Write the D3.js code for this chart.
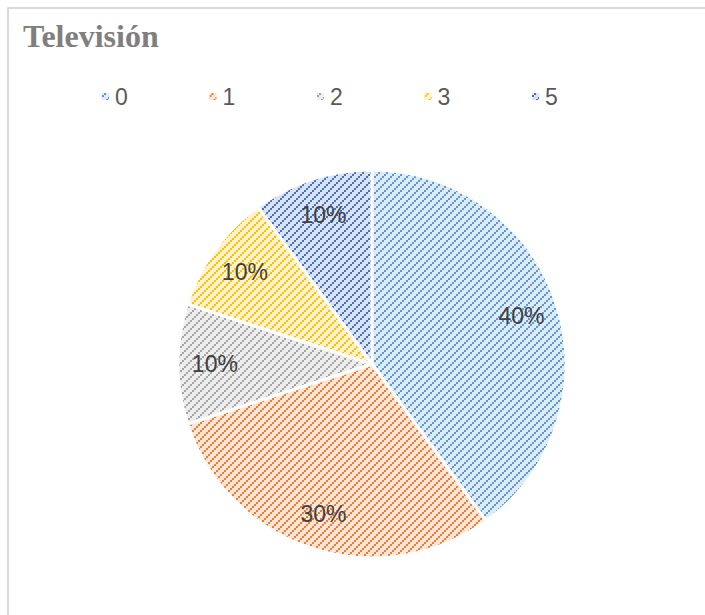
<!DOCTYPE html>
<html>
<head>
<meta charset="utf-8">
<script src="https://cdn.jsdelivr.net/npm/d3@7"></script>
<style>
  html, body { margin: 0; padding: 0; background: #ffffff; }
  svg { display: block; }
</style>
</head>
<body>
<svg id="chart" width="705" height="615"></svg>
<script>
const title = "Televisión";
const categories = ["0", "1", "2", "3", "5"];
const values = [4, 3, 1, 1, 1];
const fgColors = ["#5b9bd5", "#ed7d31", "#a5a5a5", "#ffc000", "#4472c4"];
const bgColors = ["#deebf7", "#fbe5d6", "#ededed", "#fff2cc", "#dae3f3"];

const W = 705, H = 615;
const svg = d3.select("#chart");

// chart area border
svg.append("rect")
  .attr("x", 8).attr("y", 8)
  .attr("width", W + 10).attr("height", H + 10)
  .attr("fill", "#ffffff")
  .attr("stroke", "#d9d9d9").attr("stroke-width", 2);

// patterns
const defs = svg.append("defs");
categories.forEach((c, i) => {
  const p = defs.append("pattern")
    .attr("id", "pat" + i)
    .attr("patternUnits", "userSpaceOnUse")
    .attr("width", 8).attr("height", 8);
  p.append("rect").attr("width", 8).attr("height", 8).attr("fill", bgColors[i]);
  const g = p.append("g").attr("fill", fgColors[i]).attr("shape-rendering", "crispEdges");
  // stepped diagonal (lower-left to upper-right)
  [[0,6],[2,4],[4,2],[6,0]].forEach(([x, y]) => {
    g.append("rect").attr("x", x).attr("y", y).attr("width", 2).attr("height", 2);
  });
});

// title
svg.append("text")
  .attr("x", 23).attr("y", 47)
  .attr("font-family", "'Liberation Serif', 'Times New Roman', serif")
  .attr("font-weight", "bold")
  .attr("font-size", 32)
  .attr("fill", "#7f7f7f")
  .text(title);

// legend
const legendX = d3.scalePoint().domain(categories).range([102, 532]);
const legend = svg.append("g").selectAll("g")
  .data(categories)
  .join("g")
  .attr("transform", d => `translate(${legendX(d)},97)`);
legend.append("rect")
  .attr("x", 0).attr("y", -4).attr("width", 7).attr("height", 7)
  .attr("fill", (d, i) => `url(#pat${i})`);
legend.append("text")
  .attr("x", 13).attr("y", 8)
  .attr("font-family", "'Liberation Sans', Arial, sans-serif")
  .attr("font-size", 23)
  .attr("fill", "#595959")
  .text(d => d);

// pie
const cx = 372, cy = 364, R = 194;
const pie = d3.pie().sort(null).value(d => d)(values);
const total = d3.sum(values);
const arc = d3.arc().innerRadius(0).outerRadius(R);
const labelArc = d3.arc().innerRadius(R * 0.81).outerRadius(R * 0.81);

const g = svg.append("g").attr("transform", `translate(${cx},${cy})`);
g.selectAll("path")
  .data(pie)
  .join("path")
  .attr("d", arc)
  .attr("fill", (d, i) => `url(#pat${i})`)
  .attr("stroke", "#ffffff")
  .attr("stroke-width", 3)
  .attr("stroke-linejoin", "round");

g.selectAll("text.lbl")
  .data(pie)
  .join("text")
  .attr("class", "lbl")
  .attr("transform", d => `translate(${labelArc.centroid(d)})`)
  .attr("text-anchor", "middle")
  .attr("dy", "0.36em")
  .attr("font-family", "'Liberation Sans', Arial, sans-serif")
  .attr("font-size", 23)
  .attr("fill", "#404040")
  .text(d => Math.round(d.value / total * 100) + "%");
</script>
</body>
</html>
